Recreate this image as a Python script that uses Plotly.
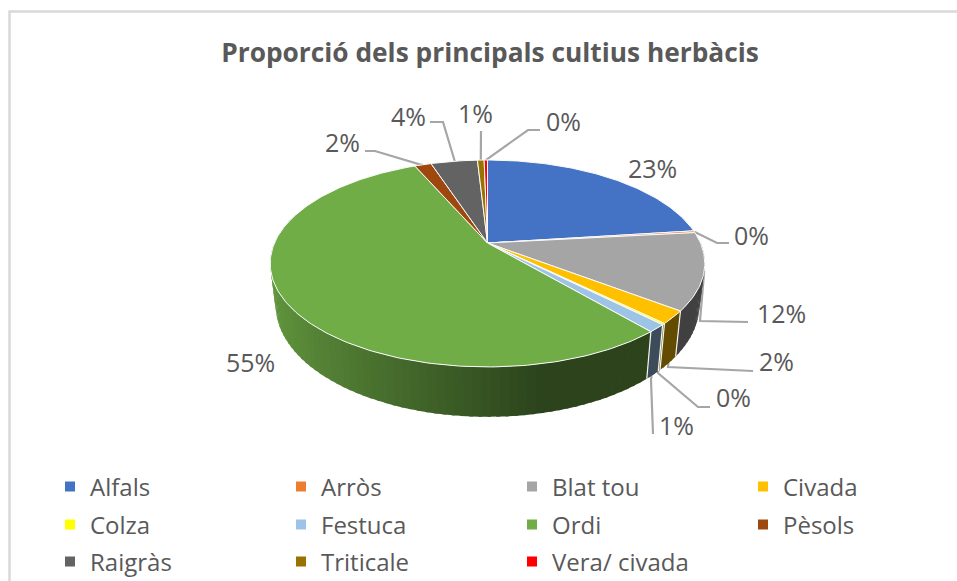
import math
import plotly.graph_objects as go

# ---- data ----
categories = ["Alfals", "Arròs", "Blat tou", "Civada", "Colza", "Festuca",
              "Ordi", "Pèsols", "Raigràs", "Triticale", "Vera/ civada"]
shares = [23.0, 0.3, 12.0, 2.0, 0.2, 1.2, 54.7, 1.5, 4.2, 0.6, 0.3]
colors = ["#4472C4", "#ED7D31", "#A5A5A5", "#FFC000", "#FFFF00", "#9DC3E6",
          "#70AD47", "#9E480E", "#636363", "#997300", "#FF0000"]
title = "Proporció dels principals cultius herbàcis"

# ---- layout of the picture ----
W, H = 957, 581
CX, CY = 487.5, 243.0      # pie apex
RX, RY = 213.0, 99.4       # projected radii
K = 0.198                  # perspective strength
DEPTH = 40.0               # extrusion
BOTTOM_SCALE = 0.975
TEXT = "#595959"
LEAD = "#A6A6A6"
FONT = "Open Sans"

# label centre, then leader waypoints (empty = no leader), per category
label_pos = [(652, 168), (751, 235), (781, 313), (776, 361), (733, 397), (676, 425),
             (250, 362), (342, 142), (408, 116), (475, 113), (563, 121)]
leader_way = [[], [(717, 243), (729, 243)], [(700, 321), (748, 322)],
              [(668, 367), (753, 371)], [(658, 373), (698, 407), (710, 407)],
              [(651, 380), (653, 434)], [], [(422, 165), (375, 151), (365, 151)],
              [(455, 162), (443, 122), (430, 122)], [(481, 131)], [(528, 130), (540, 130)]]


def rim(theta_deg, bottom=False):
    t = math.radians(theta_deg)
    u, v = math.sin(t), -math.cos(t)
    den = 1 - K * v
    x, y = RX * u / den, RY * v / den
    if bottom:
        return CX + x * BOTTOM_SCALE, CY + y + DEPTH / den
    return CX + x, CY + y


def shade(hex_color, f):
    r, g, b = (int(hex_color[i:i + 2], 16) for i in (1, 3, 5))
    return f"rgb({round(r * f)},{round(g * f)},{round(b * f)})"


def side_factor(theta_deg):
    u = math.sin(math.radians(theta_deg))
    if u >= 0.2:
        return 0.39
    return 0.39 + (0.2 - u) / 1.2 * 0.49


total = sum(shares)
edges = [0.0]
for s in shares:
    edges.append(edges[-1] + s / total * 360.0)

fig = go.Figure()


def add(**kw):
    kw.setdefault("hoverinfo", "skip")
    kw.setdefault("showlegend", False)
    fig.add_trace(go.Scatter(**kw))


# frame of the chart
add(x=[9.5, 9.5, W], y=[H, 11.5, 11.5], mode="lines", line=dict(color="#D9D9D9", width=2.5))

# leaders, below the pie so that they emerge from its edge
for i, way in enumerate(leader_way):
    if way:
        ax, ay = rim((edges[i] + edges[i + 1]) / 2)
        add(x=[ax] + [p[0] for p in way], y=[ay] + [p[1] for p in way],
            mode="lines", line=dict(color=LEAD, width=2.2))

# side wall: overlapping strips so no seams show between them
SIDE_FROM, SIDE_TO = 88.0, 285.0
for i, c in enumerate(colors):
    a, b = max(edges[i], SIDE_FROM), min(edges[i + 1], SIDE_TO)
    if b <= a:
        continue
    n = max(1, math.ceil((b - a) / 2.0))
    for j in range(n):
        t0 = a + (b - a) * j / n
        t1 = min(b, a + (b - a) * (j + 1) / n + 0.8)
        tm = (t0 + t1) / 2
        p = [rim(t0), rim(tm), rim(t1), rim(t1, True), rim(tm, True), rim(t0, True), rim(t0)]
        add(x=[q[0] for q in p], y=[q[1] for q in p], mode="lines", fill="toself",
            fillcolor=shade(c, side_factor(tm)), line=dict(width=0))

# white seams on the side wall
for e in edges:
    if 120 < e < 180:
        p0, p1 = rim(e), rim(e, True)
        add(x=[p0[0], p1[0]], y=[p0[1], p1[1]], mode="lines", line=dict(color="#F4F4F4", width=1.2))

# top face
for i, c in enumerate(colors):
    a, b = edges[i], edges[i + 1]
    n = max(2, math.ceil((b - a) / 1.0))
    pts = [rim(a + (b - a) * j / n) for j in range(n + 1)]
    add(x=[CX] + [q[0] for q in pts] + [CX], y=[CY] + [q[1] for q in pts] + [CY],
        mode="lines", fill="toself", fillcolor=c, line=dict(color="#FAFAFA", width=1))

# legend entries, one legend per row
row_of = ["legend"] * 4 + ["legend2"] * 4 + ["legend3"] * 3
for name, c, lg in zip(categories, colors, row_of):
    fig.add_trace(go.Scatter(x=[None], y=[None], mode="markers", name=name, legend=lg,
                             marker=dict(symbol="square", size=10, color=c), hoverinfo="skip"))

annotations = [dict(x=lx, y=ly, xref="x", yref="y", text=f"{s / total * 100:.0f}%", showarrow=False,
                    font=dict(family=FONT, size=25, color=TEXT), xanchor="center", yanchor="middle")
               for (lx, ly), s in zip(label_pos, shares)]

legend_base = dict(orientation="h", xanchor="left", yanchor="middle", x=50 / W, entrywidth=186,
                   entrywidthmode="pixels", itemwidth=30, bgcolor="rgba(0,0,0,0)", traceorder="normal",
                   font=dict(family=FONT, size=24, color=TEXT))

fig.update_layout(
    width=W, height=H, margin=dict(l=0, r=0, t=0, b=0, autoexpand=False),
    paper_bgcolor="white", plot_bgcolor="white",
    xaxis=dict(range=[0, W], visible=False, fixedrange=True),
    yaxis=dict(range=[H, 0], visible=False, fixedrange=True),
    title=dict(text=f"<b>{title}</b>", x=490 / W, y=1 - 53 / H, xanchor="center", yanchor="middle",
               font=dict(family=FONT, size=26.3, color=TEXT)),
    annotations=annotations,
    legend=dict(legend_base, y=1 - 487 / H),
    legend2=dict(legend_base, y=1 - 525 / H),
    legend3=dict(legend_base, y=1 - 562 / H),
    showlegend=True,
)

fig.write_html("out.html", config={"displayModeBar": False},
               post_script="document.body.style.margin='0';document.documentElement.style.overflow='hidden';")
